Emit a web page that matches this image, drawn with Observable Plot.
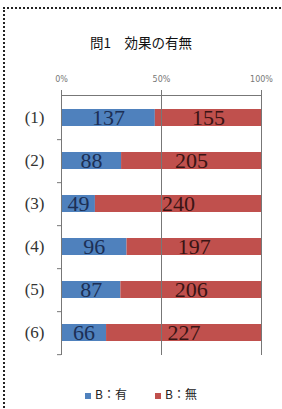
<!DOCTYPE html>
<html><head><meta charset="utf-8">
<script src="https://cdn.jsdelivr.net/npm/d3@7"></script>
<script src="https://cdn.jsdelivr.net/npm/@observablehq/plot@0.6"></script>
<style>
body{margin:0;background:#fff;}
#wrap{position:relative;width:282px;height:409px;overflow:hidden;}
#border{position:absolute;left:3px;top:7px;width:290px;height:420px;border-left:2px dotted #222;border-top:2px dotted #222;box-sizing:border-box;}
#title{position:absolute;top:32px;left:0;width:282px;text-align:center;font:13.5px "Noto Sans CJK JP";color:#111;}
#chart{position:absolute;left:0;top:60px;}
#legend{position:absolute;top:385px;left:0;width:282px;text-align:center;font:12px "Noto Sans CJK JP";color:#222;}
#legend span.sw{display:inline-block;width:6px;height:6px;margin-right:4px;vertical-align:middle;}
#legend span.it{margin:0 14px;}
</style></head>
<body><div id="wrap"><div id="border"></div>
<div id="title">問1　効果の有無</div>
<div id="chart"></div>
<div id="legend"><span class="it"><span class="sw" style="background:#4F81BD"></span>B：有</span><span class="it"><span class="sw" style="background:#C0504D"></span>B：無</span></div>
</div>
<script>
const categories = ["(1)","(2)","(3)","(4)","(5)","(6)"];
const seriesNames = ["B：有","B：無"];
const yesValues = [137, 88, 49, 96, 87, 66];
const noValues = [155, 205, 240, 197, 206, 227];
const tickValues = [0, 0.5, 1];
const tickLabels = ["0%","50%","100%"];

const data = [];
categories.forEach((c,i)=>{
  data.push({cat:c, series:seriesNames[0], value:yesValues[i]});
  data.push({cat:c, series:seriesNames[1], value:noValues[i]});
});
const colors = ["#4F81BD","#C0504D"];
const labelColors = {"B：有":"#1c2f55","B：無":"#3a1414"};
const H = 300, mt = 35, mb = 5;
const padOuter = 0.3, padInner = 0.6;
const step = (H - mt - mb) / (categories.length - padInner + 2*padOuter);

const chart = Plot.plot({
  width: 282, height: H,
  marginTop: mt, marginBottom: mb, marginLeft: 61, marginRight: 21,
  x: {domain:[0,1], axis:null},
  y: {domain: categories, paddingInner: padInner, paddingOuter: padOuter, axis:null},
  color: {domain: seriesNames, range: colors},
  style: {fontFamily:"Liberation Serif", background:"transparent"},
  marks: [
    Plot.axisX(tickValues, {anchor:"top", tickFormat:(d)=>tickLabels[tickValues.indexOf(d)], tickSize:6, tickPadding:8, fontSize:8, fontFamily:"DejaVu Sans", fill:"#777", stroke:"#777", label:null}),
    Plot.axisY({anchor:"left", tickSize:0, tickPadding:17, fontSize:17, fontFamily:"Liberation Serif", fill:"#333", label:null}),
    Plot.barX(data, Plot.stackX({y:"cat", x:"value", fill:"series", offset:"normalize", order: seriesNames})),
    Plot.ruleX(tickValues, {stroke:"#777", strokeWidth:1}),
    Plot.frame({anchor:"top", stroke:"#777"}),
    Plot.ruleY(categories, {y:d=>d, x1:-0.02, x2:0, dy: step/2, stroke:"#777"}),
    Plot.text(data, Plot.stackX({y:"cat", x:"value", offset:"normalize", order: seriesNames, text:d=>String(d.value), fill:d=>labelColors[d.series], fontSize:22, fontFamily:"Liberation Serif"}))
  ]
});
document.getElementById("chart").appendChild(chart);
</script>
</body></html>
